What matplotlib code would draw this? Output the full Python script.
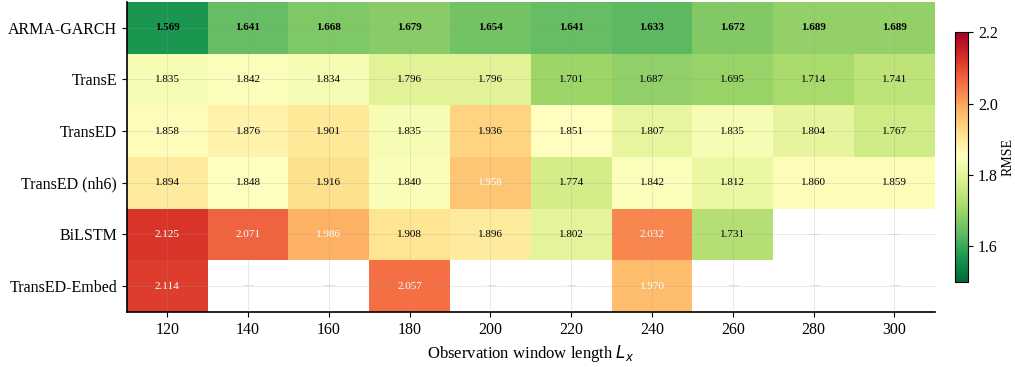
import numpy as np
import matplotlib
matplotlib.use("Agg")
import matplotlib.pyplot as plt

models = ["ARMA-GARCH", "TransE", "TransED", "TransED (nh6)", "BiLSTM", "TransED-Embed"]
windows = [120, 140, 160, 180, 200, 220, 240, 260, 280, 300]
arma_garch = [1.569, 1.641, 1.668, 1.679, 1.654, 1.641, 1.633, 1.672, 1.689, 1.689]
trans_e = [1.835, 1.842, 1.834, 1.796, 1.796, 1.701, 1.687, 1.695, 1.714, 1.741]
trans_ed = [1.858, 1.876, 1.901, 1.835, 1.936, 1.851, 1.807, 1.835, 1.804, 1.767]
trans_ed_nh6 = [1.894, 1.848, 1.916, 1.840, 1.958, 1.774, 1.842, 1.812, 1.860, 1.859]
bilstm = [2.125, 2.071, 1.986, 1.908, 1.896, 1.802, 2.032, 1.731, np.nan, np.nan]
trans_ed_embed = [2.114, np.nan, np.nan, 2.057, np.nan, np.nan, 1.970, np.nan, np.nan, np.nan]

plt.rcParams['font.family'] = ['Liberation Serif', 'DejaVu Serif']
plt.rcParams['mathtext.fontset'] = 'dejavusans'

data = np.array([arma_garch, trans_e, trans_ed, trans_ed_nh6, bilstm, trans_ed_embed], dtype=float)
nrows, ncols = data.shape

fig = plt.figure(figsize=(10.15, 3.67), dpi=100)
ax = fig.add_axes([0.125, 0.15, 0.796, 0.845])
cax = fig.add_axes([0.941, 0.232, 0.013, 0.68])

x_edges = np.concatenate([[windows[0] - 10], np.array(windows) + 10])
y_edges = np.arange(nrows + 1) - 0.5
mesh = ax.pcolormesh(x_edges, y_edges, np.ma.masked_invalid(data), cmap='RdYlGn_r',
                     vmin=1.5, vmax=2.2, shading='flat')
ax.set_ylim(nrows - 0.5, -0.5)
ax.set_xlim(110, 310)
ax.set_xticks(windows)
ax.set_yticks(range(nrows))
ax.set_yticklabels(models)
ax.tick_params(labelsize=11.5)
ax.set_xlabel(r"Observation window length $L_x$", fontsize=12)
for s in ['top', 'right']:
    ax.spines[s].set_visible(False)
ax.spines['left'].set_linewidth(1.2)
ax.spines['bottom'].set_linewidth(1.2)
ax.grid(True, color='#999999', alpha=0.25, linewidth=0.6, zorder=3)
ax.set_axisbelow(False)

for i in range(nrows):
    for j in range(ncols):
        v = data[i, j]
        if np.isnan(v):
            ax.text(windows[j], i, "—", ha='center', va='center', fontsize=7, color='#cccccc', zorder=4)
        else:
            col = 'white' if v > 1.95 else 'black'
            ax.text(windows[j], i, f"{v:.3f}", ha='center', va='center', fontsize=8, color=col,
                    fontweight='bold' if i == 0 else 'normal', zorder=4)

cb = fig.colorbar(mesh, cax=cax)
cb.set_ticks([1.6, 1.8, 2.0, 2.2])
cb.ax.tick_params(labelsize=11.5)
cb.set_label("RMSE", fontsize=10)
cb.ax.yaxis.set_label_coords(3.55, 0.5)

fig.savefig("out.png", dpi=100)
